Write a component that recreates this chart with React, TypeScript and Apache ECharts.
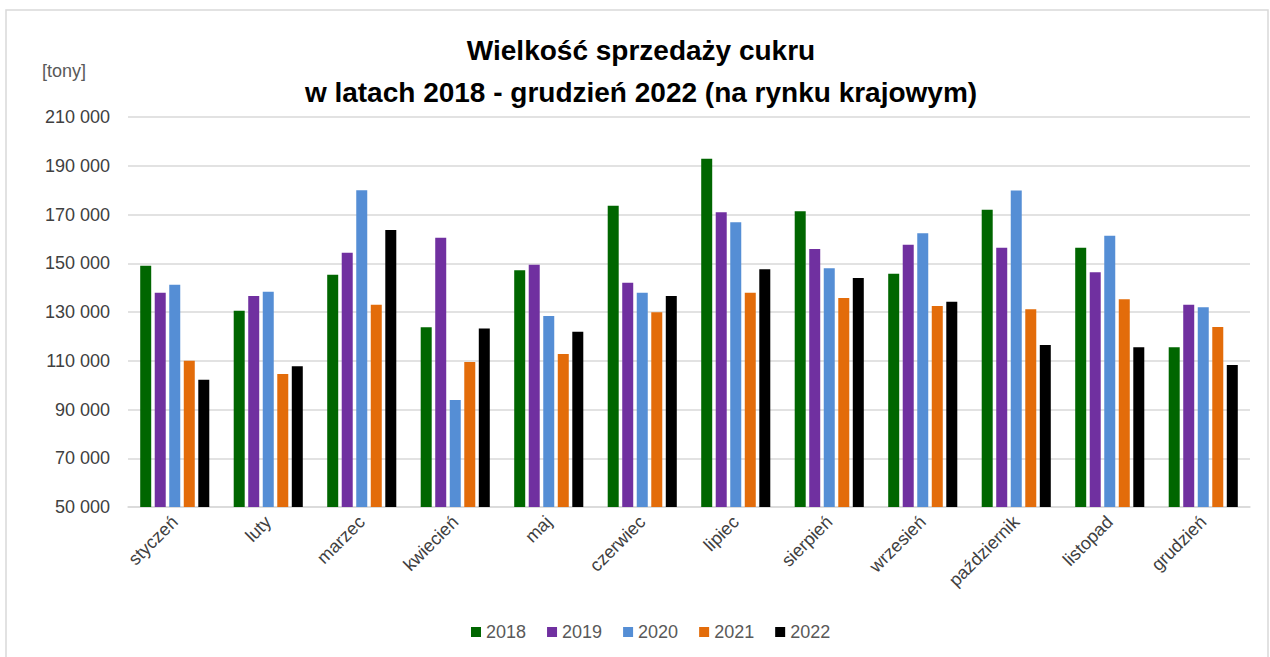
import React, { useEffect, useRef } from "react";
import * as echarts from "echarts";

const months = ["styczeń", "luty", "marzec", "kwiecień", "maj", "czerwiec", "lipiec", "sierpień", "wrzesień", "październik", "listopad", "grudzień"];
const years = ["2018", "2019", "2020", "2021", "2022"];
const colors = ["#006600", "#7030A0", "#558ED5", "#E36C0A", "#000000"];
const s2018 = [149000, 130500, 145300, 123700, 147100, 173600, 192900, 171300, 145700, 172000, 156400, 115500];
const s2019 = [137900, 136600, 154300, 160500, 149400, 142000, 170900, 155800, 157600, 156400, 146300, 133000];
const s2020 = [141200, 138300, 180000, 93900, 128400, 137900, 166800, 148000, 162300, 179800, 161300, 132000];
const s2021 = [110000, 104600, 133000, 109500, 112800, 129900, 137900, 135700, 132500, 131100, 135200, 123800];
const s2022 = [102200, 107700, 163600, 123200, 121900, 136600, 147500, 143900, 134200, 116500, 115500, 108300];
const seriesData = [s2018, s2019, s2020, s2021, s2022];
const titleLines = ["Wielkość sprzedaży cukru", "w latach 2018 - grudzień 2022 (na rynku krajowym)"];

const FONT = "'Liberation Sans', Arial, sans-serif";

export default function App() {
  const ref = useRef<HTMLDivElement>(null);
  useEffect(() => {
    document.body.style.margin = "0";
    const chart = echarts.init(ref.current!, null, { renderer: "svg" });
    chart.setOption({
      animation: false,
      backgroundColor: "#ffffff",
      graphic: [
        { type: "rect", shape: { x: 6, y: 10, width: 1262, height: 660 }, style: { fill: "none", stroke: "#d9d9d9", lineWidth: 1.5 }, silent: true },
        { type: "text", left: 42, top: 62, style: { text: "[tony]", fontFamily: FONT, fontSize: 18, fill: "#595959" } },
        {
          type: "text", x: 641, y: 50,
          style: { text: titleLines[0], fontFamily: FONT, fontSize: 28, fontWeight: "bold", fill: "#000", align: "center", verticalAlign: "middle" },
        },
        {
          type: "text", x: 641, y: 92,
          style: { text: titleLines[1], fontFamily: FONT, fontSize: 28, fontWeight: "bold", fill: "#000", align: "center", verticalAlign: "middle" },
        },
      ],
      legend: {
        data: years,
        bottom: 11,
        left: 466,
        itemWidth: 10,
        itemHeight: 10,
        itemGap: 21,
        icon: "rect",
        textStyle: { fontFamily: FONT, fontSize: 18, color: "#595959" },
      },
      grid: { left: 128, right: 20, top: 117, bottom: 150, containLabel: false },
      xAxis: {
        type: "category",
        data: months,
        axisLine: { lineStyle: { color: "#d9d9d9", width: 1.5 } },
        axisTick: { show: false },
        axisLabel: { interval: 0, rotate: 45, fontFamily: FONT, fontSize: 18, color: "#404040", margin: 12 },
      },
      yAxis: {
        type: "value",
        min: 50000,
        max: 210000,
        interval: 20000,
        axisLine: { show: false },
        axisTick: { show: false },
        splitLine: { lineStyle: { color: "#d9d9d9", width: 1.5 } },
        axisLabel: {
          fontFamily: FONT,
          fontSize: 18,
          color: "#404040",
          margin: 18,
          formatter: (v: number) => String(v).replace(/\B(?=(\d{3})+(?!\d))/g, " "),
        },
      },
      series: seriesData.map((d, i) => ({
        name: years[i],
        type: "bar",
        data: d,
        barWidth: 11,
        barGap: "32%",
        itemStyle: { color: colors[i] },
      })),
    });
    return () => chart.dispose();
  }, []);
  return <div ref={ref} style={{ position: "absolute", left: 0, top: 0, width: 1270, height: 657 }} />;
}
